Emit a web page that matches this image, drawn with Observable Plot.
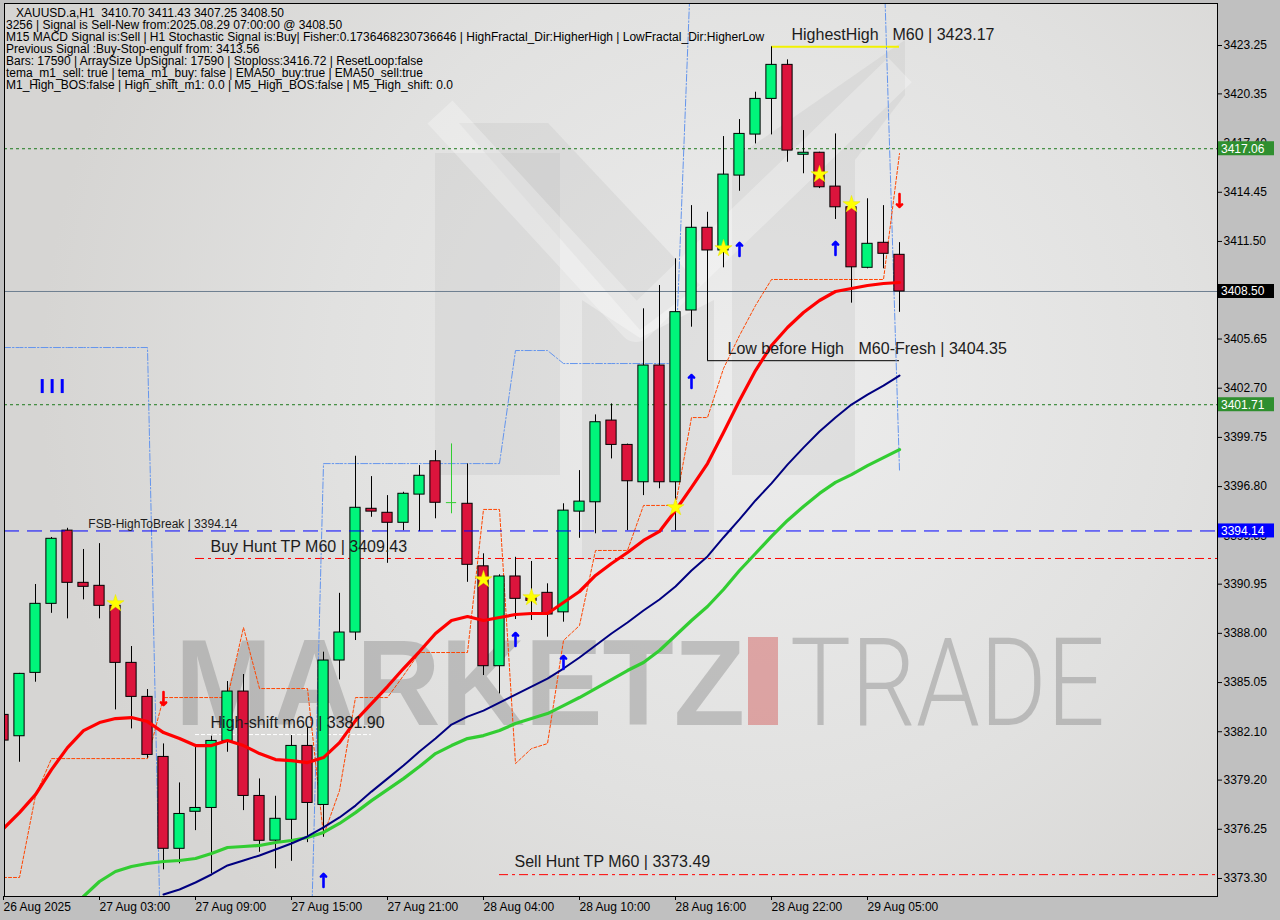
<!DOCTYPE html>
<html><head><meta charset="utf-8">
<script src="https://cdn.jsdelivr.net/npm/d3@7"></script>
<script src="https://cdn.jsdelivr.net/npm/@observablehq/plot@0.6"></script>
<style>
html,body{margin:0;padding:0;background:#c0c0c0;}
#wrap{position:relative;width:1280px;height:920px;overflow:hidden;}
#hdr{position:absolute;left:6px;top:7px;font:12px "Liberation Sans",Arial,sans-serif;line-height:12px;color:#000;white-space:pre;}
</style></head><body><div id="wrap"><div id="chart"></div><div id="hdr"></div></div>
<script>
// ---------- data (H1 bars, index 0 = leftmost) ----------
const open  = [3383.11,3381.83,3385.63,3389.77,3394.16,3391.03,3390.85,3389.65,3386.23,3384.19,3380.59,3375.08,3377.30,3377.53,3381.55,3384.51,3378.25,3375.57,3376.82,3381.25,3377.71,3386.37,3388.05,3395.47,3395.23,3394.63,3396.32,3398.32,3395.84,3395.77,3392.02,3386.03,3391.41,3390.10,3390.43,3389.26,3395.30,3395.86,3400.76,3399.30,3397.06,3404.06,3397.06,3407.36,3412.32,3410.96,3415.45,3417.91,3420.05,3422.09,3416.70,3416.82,3414.79,3413.55,3409.92,3411.42,3410.70];
const high  = [3385.95,3385.60,3390.93,3393.75,3394.30,3393.03,3393.38,3389.97,3387.21,3384.63,3381.37,3379.03,3381.33,3381.83,3385.11,3385.53,3379.27,3378.23,3381.87,3382.35,3386.87,3390.40,3398.62,3397.40,3396.26,3396.46,3398.06,3398.96,3399.36,3398.16,3392.77,3391.51,3392.56,3392.31,3390.97,3395.77,3397.76,3401.10,3401.76,3399.35,3407.46,3408.86,3410.46,3413.65,3413.25,3417.79,3418.81,3420.45,3423.17,3422.39,3418.15,3416.85,3417.95,3413.95,3414.06,3413.65,3411.43];
const low   = [3380.25,3380.27,3385.07,3389.20,3388.87,3390.01,3388.87,3383.41,3382.27,3380.51,3373.82,3374.18,3376.17,3373.58,3380.87,3377.37,3374.87,3373.88,3374.33,3375.45,3375.77,3385.21,3387.57,3394.96,3392.20,3394.16,3394.10,3394.87,3395.17,3391.06,3385.47,3384.37,3388.83,3388.77,3387.77,3388.67,3393.70,3393.97,3398.46,3394.16,3396.26,3396.67,3394.16,3406.36,3404.35,3409.92,3414.51,3417.35,3417.89,3416.25,3415.56,3414.67,3412.82,3407.80,3409.86,3409.86,3407.25];
const close = [3381.57,3385.57,3389.77,3393.67,3391.03,3390.79,3389.65,3386.23,3384.19,3380.71,3375.08,3377.17,3377.53,3381.55,3384.51,3378.25,3375.56,3376.88,3381.25,3377.83,3386.37,3388.05,3395.53,3395.30,3394.63,3396.37,3397.45,3395.83,3395.84,3392.11,3386.03,3391.41,3390.07,3389.95,3389.13,3395.36,3395.90,3400.66,3399.30,3397.12,3404.06,3397.06,3407.26,3412.32,3410.96,3415.51,3417.95,3420.05,3422.09,3416.95,3416.82,3414.75,3413.55,3409.95,3411.36,3410.76,3408.50];

const emaRed = [3376.29,3377.25,3378.33,3379.83,3381.15,3382.17,3382.65,3382.89,3382.95,3382.71,3382.05,3381.69,3381.27,3381.27,3381.57,3381.27,3380.79,3380.43,3380.37,3380.25,3380.55,3381.45,3382.77,3383.79,3384.81,3385.89,3386.91,3387.99,3388.77,3389.01,3388.77,3388.95,3389.13,3389.19,3389.19,3389.85,3390.51,3391.47,3392.19,3392.85,3393.57,3394.11,3395.37,3396.75,3398.18,3400.04,3401.96,3403.76,3405.26,3406.34,3407.24,3407.96,3408.50,3408.68,3408.86,3408.98,3409.04];
const emaNavy = [null,null,null,null,null,null,null,null,null,null,3372.34,3372.64,3373.06,3373.54,3374.08,3374.38,3374.68,3375.04,3375.40,3375.82,3376.36,3376.96,3377.67,3378.51,3379.29,3380.07,3380.91,3381.69,3382.53,3383.01,3383.37,3383.85,3384.33,3384.81,3385.29,3385.89,3386.55,3387.27,3387.99,3388.65,3389.37,3390.03,3390.81,3391.77,3392.61,3393.75,3394.83,3395.97,3396.99,3398.12,3399.14,3400.10,3400.94,3401.72,3402.32,3402.86,3403.46];
const emaGreen = [null,null,null,null,null,3372.22,3373.12,3373.72,3374.02,3374.20,3374.32,3374.38,3374.50,3374.80,3375.16,3375.22,3375.28,3375.46,3375.58,3375.76,3376.06,3376.60,3377.25,3377.97,3378.63,3379.29,3380.01,3380.79,3381.27,3381.69,3381.87,3382.17,3382.59,3382.89,3383.19,3383.67,3384.15,3384.69,3385.23,3385.77,3386.25,3386.97,3387.87,3388.77,3389.61,3390.63,3391.77,3392.79,3393.81,3394.77,3395.61,3396.39,3397.05,3397.52,3398.06,3398.54,3399.02];
const bandOrange = [3373.36,3373.36,3378.27,3380.49,3380.49,3380.49,3380.49,3380.49,3380.49,3380.49,3384.15,3384.15,3384.15,3384.15,3384.15,3388.35,3384.69,3384.69,3384.69,3384.69,3375.88,3378.57,3384.15,3384.15,3384.15,3385.47,3386.85,3386.85,3386.85,3386.85,3395.43,3395.43,3380.19,3381.09,3381.39,3387.57,3388.47,3392.97,3392.97,3392.97,3395.67,3395.67,3395.67,3400.94,3400.94,3403.88,3405.86,3407.66,3409.22,3409.22,3409.22,3409.22,3409.22,3409.22,3409.22,3409.22,3416.77];
const stepBlue = [3405.14,3405.14,3405.14,3405.14,3405.14,3405.14,3405.14,3405.14,3405.14,3405.14,3361.2,3361.2,3361.2,3361.2,3361.2,3361.2,3361.2,3361.2,3361.2,3361.2,3398.18,3398.18,3398.18,3398.18,3398.18,3398.18,3398.18,3398.18,3398.18,3398.18,3398.18,3398.18,3404.96,3404.96,3404.96,3404.18,3404.18,3404.18,3404.18,3404.18,3404.18,3404.18,3404.18,3429.0,3429.0,3429.0,3429.0,3429.0,3429.0,3429.0,3429.0,3429.0,3429.0,3429.0,3429.0,3429.0,3397.76];

const starIdx = [7,30,33,42,45,51,53];
const starPrice = [3389.79,3391.23,3390.15,3395.55,3411.08,3415.52,3413.72];
const upIdx = [20,32,35,43,46,52];
const upPrice = [3373.18,3387.63,3386.25,3403.10,3411.02,3411.08];
const downIdx = [10,56];
const downPrice = [3384.09,3413.96];
const barMarkIdx = [2.42,3.04,3.67];
const barMarkLow = 3402.38, barMarkHigh = 3403.22;

const xTickIdx = [0,6,12,18,24,30,36,42,48,54];
const xTickLabels = ["26 Aug 2025","27 Aug 03:00","27 Aug 09:00","27 Aug 15:00","27 Aug 21:00","28 Aug 04:00","28 Aug 10:00","28 Aug 16:00","28 Aug 22:00","29 Aug 05:00"];
const yTicks = [3423.25,3420.35,3417.40,3414.45,3411.50,3408.55,3405.65,3402.70,3399.75,3396.80,3393.85,3390.95,3388.00,3385.05,3382.10,3379.20,3376.25,3373.30];

const levelDotted = [3417.06, 3401.71];
const levelFSB = 3394.14;
const lastPrice = 3408.50;
const huntLevels = [{y:3392.49, x1:12}, {y:3373.53, x1:31}];           // red dash-dot, to right edge
const highShiftLevel = {y:3381.93, x1:12, x2:23};                        // white dashed
const highestHighLevel = {y:3423.17, x1:48, x2:56};                      // yellow
const lowBeforeHighLevel = {y:3404.35, x1:44, x2:56};                    // black
const bigLabels = [
  {text:"Buy Hunt TP M60 | 3409.43", y:3392.49, x:12.94},
  {text:"High-shift m60 | 3381.90", y:3381.93, x:12.94},
  {text:"HighestHigh", y:3423.17, x:49.25},
  {text:"M60 | 3423.17", y:3423.17, x:55.56},
  {text:"Low before High", y:3404.35, x:45.25},
  {text:"M60-Fresh | 3404.35", y:3404.35, x:53.44}
];
const sellLabel = {text:"Sell Hunt TP M60 | 3373.49", y:3373.53, x:31.94};
const fsbLabel = {text:"FSB-HighToBreak | 3394.14", y:3394.14, x:5.3};
const axisBoxes = [
  {p:3417.06, fill:"#2F8F2F"}, {p:3401.71, fill:"#2F8F2F"},
  {p:3408.50, fill:"#000000"}, {p:3394.14, fill:"#0000FF"}
];
const headerLines = [
  "   XAUUSD.a,H1  3410.70 3411.43 3407.25 3408.50",
  "3256 | Signal is Sell-New from:2025.08.29 07:00:00 @ 3408.50",
  "M15 MACD Signal is:Sell | H1 Stochastic Signal is:Buy| Fisher:0.1736468230736646 | HighFractal_Dir:HigherHigh | LowFractal_Dir:HigherLow",
  "Previous Signal :Buy-Stop-engulf from: 3413.56",
  "Bars: 17590 | ArraySize UpSignal: 17590 | Stoploss:3416.72 | ResetLoop:false",
  "tema_m1_sell: true | tema_m1_buy: false | EMA50_buy:true | EMA50_sell:true",
  "M1_High_BOS:false | High_shift_m1: 0.0 | M5_High_BOS:false | M5_High_shift: 0.0"
];

// view window
const xMin = 0.0625, xMax = 75.875;
const yMin = 3372.22, yMax = 3425.77;

// ---------- build ----------
const bars = open.map((o,i)=>({i, o, h:high[i], l:low[i], c:close[i]}));
const series = bars.map(d=>({i:d.i, red:emaRed[d.i], navy:emaNavy[d.i], green:emaGreen[d.i], orange:bandOrange[d.i], blue:stepBlue[d.i]}));
const stars = starIdx.map((i,k)=>({i, p:starPrice[k]}));
const ups = upIdx.map((i,k)=>({i, p:upPrice[k]}));
const downs = downIdx.map((i,k)=>({i, p:downPrice[k]}));
const hunts = huntLevels.map(h=>({...h, x2:xMax}));
const font = "Liberation Sans, Arial, sans-serif";

const chart = Plot.plot({
  width:1280, height:920,
  marginLeft:4, marginRight:63, marginTop:3, marginBottom:24,
  x:{domain:[xMin,xMax], axis:null},
  y:{domain:[yMin,yMax], axis:null},
  color:{type:"identity"},
  style:{background:"#c0c0c0", fontFamily:font, fontSize:"12px", color:"#000", overflow:"visible"},
  marks:[
    Plot.frame({fill:"url(#bgGrad)"}),
    Plot.ruleY(levelDotted, {stroke:"#1E7A1E", strokeDasharray:"3,3"}),
    Plot.ruleY([lastPrice], {stroke:"#6E7F90"}),
    Plot.ruleY(hunts, {y:"y", x1:"x1", x2:"x2", stroke:"#FF0000", strokeDasharray:"9,4,3,4"}),
    Plot.ruleY([highShiftLevel], {y:"y", x1:"x1", x2:"x2", stroke:"#FFFFFF", strokeDasharray:"4,2"}),
    Plot.ruleY([highestHighLevel], {y:"y", x1:"x1", x2:"x2", stroke:"#F2F200", strokeWidth:2}),
    Plot.ruleY([lowBeforeHighLevel], {y:"y", x1:"x1", x2:"x2", stroke:"#000000"}),
    Plot.line(series, {x:"i", y:"blue", stroke:"#6495ED", strokeWidth:1, strokeDasharray:"7,2,1.5,2", clip:true}),
    Plot.line(series, {x:"i", y:"orange", stroke:"#FF4500", strokeWidth:1, strokeDasharray:"3,2", clip:true}),
    Plot.ruleX(bars, {x:"i", y1:"l", y2:"h", stroke:d=>d.o===d.c ? "#32CD32" : "#000000", clip:true}),
    Plot.rect(bars.filter(d=>d.o!==d.c), {x1:d=>d.i-0.32, x2:d=>d.i+0.32, y1:"o", y2:"c", fill:d=>d.c>d.o ? "#00F57A" : "#DC143C", stroke:"#000", strokeWidth:1, clip:true}),
    Plot.ruleY(bars.filter(d=>d.o===d.c), {y:"o", x1:d=>d.i-0.32, x2:d=>d.i+0.32, stroke:"#32CD32"}),
    Plot.ruleY([levelFSB], {stroke:"#0000FF", strokeDasharray:"15,8"}),
    Plot.line(series, {x:"i", y:"green", stroke:"#32CD32", strokeWidth:3.2, clip:true}),
    Plot.line(series, {x:"i", y:"navy", stroke:"#000080", strokeWidth:2, clip:true}),
    Plot.line(series, {x:"i", y:"red", stroke:"#FF0000", strokeWidth:3.2, clip:true}),
    Plot.ruleX(barMarkIdx, {x:d=>d, y1:barMarkLow, y2:barMarkHigh, stroke:"#0000FF", strokeWidth:3}),
    Plot.dot(stars, {x:"i", y:"p", symbol:"star", r:5.4, fill:"#FFFF00", stroke:"#E6E600", strokeWidth:0.5}),
    Plot.vector(ups, {x:"i", y:"p", rotate:0, length:13, stroke:"#0000FF", strokeWidth:2.6, anchor:"middle"}),
    Plot.vector(downs, {x:"i", y:"p", rotate:180, length:13, stroke:"#FF0000", strokeWidth:2.6, anchor:"middle"}),
    Plot.text(bigLabels, {x:"x", y:"y", text:"text", dy:-12, fontSize:16, textAnchor:"start", fill:"#1c1c1c", fontFamily:font}),
    Plot.text([sellLabel], {x:"x", y:"y", text:"text", dy:-13, fontSize:16, textAnchor:"start", fill:"#1c1c1c", fontFamily:font}),
    Plot.text([fsbLabel], {x:"x", y:"y", text:"text", dy:-7, fontSize:12, textAnchor:"start", fill:"#1c1c1c", fontFamily:font}),
    Plot.axisY({anchor:"right", ticks:yTicks, tickFormat:d=>d.toFixed(2), tickSize:4, tickPadding:2, fontSize:12, fill:"#000"}),
    Plot.axisX({anchor:"bottom", ticks:xTickIdx, tickFormat:d=>xTickLabels[xTickIdx.indexOf(d)], tickSize:4, tickPadding:2, textAnchor:"start", dx:0, fontSize:12, fill:"#000"}),
    Plot.frame({stroke:"#000"})
  ]
});
document.getElementById("chart").appendChild(chart);

// gradient + watermark (decoration only)
const svg = d3.select(chart);
const defs = svg.insert("defs", ":first-child");
const rg = defs.append("radialGradient").attr("id","bgGrad").attr("gradientUnits","userSpaceOnUse")
  .attr("cx",760).attr("cy",380).attr("r",720);
rg.append("stop").attr("offset","0%").attr("stop-color","#EDEDED");
rg.append("stop").attr("offset","60%").attr("stop-color","#E1E1E0");
rg.append("stop").attr("offset","100%").attr("stop-color","#D6D5D3");

const frameEl = chart.querySelector('[aria-label="frame"]');
const wm = document.createElementNS("http://www.w3.org/2000/svg","g");
wm.setAttribute("text-anchor","start");
wm.innerHTML = `
 <g fill="#B8B8B8" fill-opacity="0.22">
  <rect x="435" y="153" width="125" height="322"/>
  <rect x="732" y="160" width="123" height="315"/>
  <polygon points="582,300 640,338 714,300 714,560 582,560"/>
  <polygon points="459,123 548,123 700,285 640,330"/>
  <polygon points="732,160 855,160 905,95 905,40"/>
 </g>
 <polyline points="440,112 636,325 900,70" fill="none" stroke="#FFFFFF" stroke-opacity="0.28" stroke-width="34" stroke-linejoin="round"/>
 <text x="175" y="725" text-anchor="start" font-family="Liberation Sans, Arial" font-weight="bold" font-size="122" textLength="570" lengthAdjust="spacingAndGlyphs" fill="#888888" fill-opacity="0.42">MARKETZ</text>
 <rect x="748" y="637" width="30" height="88" fill="#D04040" fill-opacity="0.4"/>
 <text x="790" y="725" text-anchor="start" font-family="Roboto, Lato, sans-serif" font-weight="300" font-size="122" textLength="315" lengthAdjust="spacingAndGlyphs" fill="#8A8A8A" fill-opacity="0.45">TRADE</text>`;
frameEl.parentNode.insertBefore(wm, frameEl.nextSibling);

// right-axis value boxes using the chart's y scale
const ys = chart.scale("y");
const boxG = svg.append("g").attr("text-anchor","start");
axisBoxes.forEach(b=>{
  const yy = ys.apply(b.p);
  boxG.append("rect").attr("x",1218).attr("y",yy-7).attr("width",56).attr("height",14).attr("fill",b.fill);
  boxG.append("text").attr("x",1221).attr("y",yy).attr("dy","0.36em").attr("fill","#fff")
    .attr("text-anchor","start").attr("font-family",font).attr("font-size",12).text(b.p.toFixed(2));
});

document.getElementById("hdr").textContent = headerLines.join("\n");
</script>
</body></html>
